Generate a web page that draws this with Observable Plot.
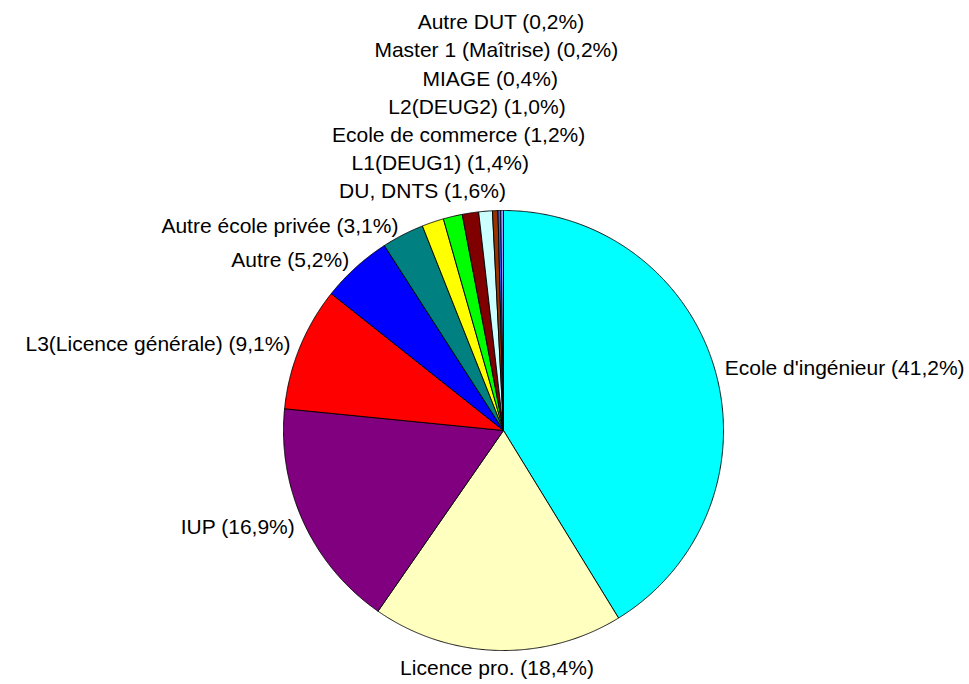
<!DOCTYPE html>
<html>
<head>
<meta charset="utf-8">
<script src="https://cdn.jsdelivr.net/npm/d3@7"></script>
<script src="https://cdn.jsdelivr.net/npm/@observablehq/plot@0.6"></script>
<style>
  html, body { margin: 0; padding: 0; background: #fff; }
  #chart { width: 969px; height: 684px; }
</style>
</head>
<body>
<div id="chart"></div>
<script>
// ---- data ----
const categories = [
  "Ecole d'ingénieur", "Licence pro.", "IUP", "L3(Licence générale)", "Autre",
  "Autre école privée", "DU, DNTS", "L1(DEUG1)", "Ecole de commerce",
  "L2(DEUG2)", "MIAGE", "Master 1 (Maîtrise)", "Autre DUT"
];
const shares = [41.2, 18.4, 16.9, 9.1, 5.2, 3.1, 1.6, 1.4, 1.2, 1.0, 0.4, 0.2, 0.2];
const sliceColors = [
  "#00ffff", "#ffffc0", "#800080", "#ff0000", "#0000ff",
  "#008080", "#ffff00", "#00ff00", "#800000", "#ccffff",
  "#993300", "#3366ff", "#9999ff"
];

// ---- layout ----
const W = 969, H = 684;
const CX = 503, CY = 430, R = 220;       // pie centre and radius (px)
const labelR = 1.045;                     // label distance (in radii)
const stackTop = (CY - 22) / R;           // top of stacked small labels (in radii)
const stackStep = 28.2 / R;               // line step of stacked labels

const fmt = v => "(" + v.toFixed(1).replace(".", ",") + "%)";

const arcs = d3.pie().sort(null).value(d => d)(shares);

// slice outlines, in pie units (radius = 1, y up)
const slicePts = [];
arcs.forEach((a, i) => {
  const name = categories[i];
  slicePts.push({name, x: 0, y: 0});
  const n = Math.max(2, Math.ceil((a.endAngle - a.startAngle) / 0.005));
  for (let k = 0; k <= n; k++) {
    const t = a.startAngle + (a.endAngle - a.startAngle) * k / n;
    slicePts.push({name, x: Math.sin(t), y: Math.cos(t)});
  }
  slicePts.push({name, x: 0, y: 0});
});

// labels
const labelData = arcs.map((a, i) => {
  const mid = (a.startAngle + a.endAngle) / 2;
  const text = categories[i] + " " + fmt(shares[i]);
  if (shares[i] < 2) {
    const k = shares.length - 1 - i;          // 0 = top-most
    const y = stackTop - k * stackStep;
    const x = y * Math.tan(mid);
    return {x, y, text, anchor: "middle", line: "middle"};
  }
  const sx = Math.sin(mid), cy = Math.cos(mid);
  const x = labelR * sx, y = labelR * cy;
  let anchor = "middle", line = "middle";
  if (sx > 0.2) anchor = "start";
  else if (sx < -0.2) anchor = "end";
  else line = cy < 0 ? "top" : "bottom";
  return {x, y, text, anchor, line};
});

const textMark = (anchor, line) => Plot.text(
  labelData.filter(d => d.anchor === anchor && d.line === line),
  {x: "x", y: "y", text: "text", textAnchor: anchor, lineAnchor: line,
   fontSize: 21, fill: "#000"}
);

const chart = Plot.plot({
  width: W,
  height: H,
  margin: 0,
  x: {domain: [-CX / R, (W - CX) / R], range: [0, W], axis: null},
  y: {domain: [-(H - CY) / R, CY / R], range: [H, 0], axis: null},
  color: {domain: categories, range: sliceColors},
  style: {fontFamily: "'Liberation Sans', Arial, sans-serif", background: "#fff"},
  marks: [
    Plot.line(slicePts, {x: "x", y: "y", z: "name", fill: "name",
      stroke: "#000", strokeWidth: 0.9, curve: "linear", strokeLinejoin: "miter"}),
    textMark("start", "middle"),
    textMark("end", "middle"),
    textMark("middle", "middle"),
    textMark("middle", "top"),
    textMark("middle", "bottom")
  ]
});
document.getElementById("chart").appendChild(chart);
</script>
</body>
</html>
